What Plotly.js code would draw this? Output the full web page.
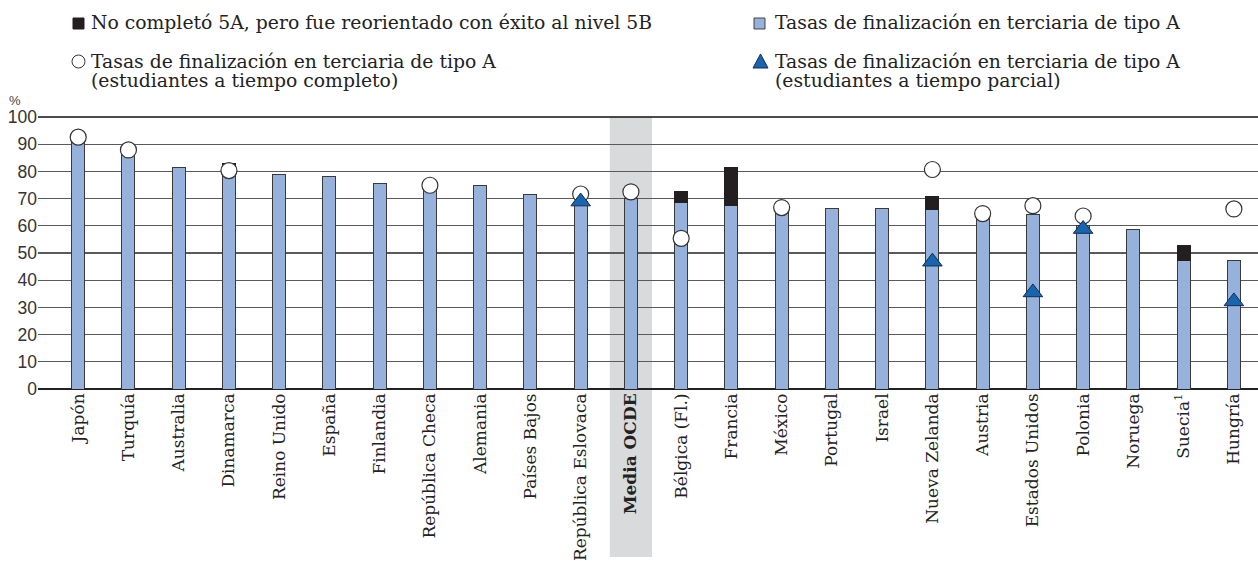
<!DOCTYPE html>
<html>
<head>
<meta charset="utf-8">
<script src="https://cdn.plot.ly/plotly-3.0.1.min.js"></script>
<style>html,body{margin:0;padding:0;background:#fff;}#chart{width:1258px;height:561px;}</style>
</head>
<body>
<div id="chart"></div>
<script>
const categories = ["Japón","Turquía","Australia","Dinamarca","Reino Unido","España","Finlandia","República Checa","Alemania","Países Bajos","República Eslovaca","<b>Media OCDE</b>","Bélgica (Fl.)","Francia","México","Portugal","Israel","Nueva Zelanda","Austria","Estados Unidos","Polonia","Noruega","Suecia<sup>1</sup>","Hungría"];
const tasaA = [91, 87, 81.5, 81, 78.7, 78.1, 75.6, 74, 74.8, 71.6, 69, 70, 68.6, 67.3, 65.5, 66.4, 66.4, 66, 64, 64, 60, 58.8, 47.2, 47.3];
const reorientado = [null, null, null, 2, null, null, null, null, null, null, null, null, 3.9, 14.1, null, null, null, 4.7, null, null, null, null, 5.6, null];
const tiempoCompleto = [92.6, 87.9, null, 80.3, null, null, null, 74.9, null, null, 71.7, 72.5, 55.4, null, 66.7, null, null, 80.7, 64.5, 67.4, 63.6, null, null, 66.2];
const tiempoParcial = [null, null, null, null, null, null, null, null, null, null, 68.9, null, null, null, null, null, null, 46.8, null, 35.5, 58.8, null, null, 32.2];

const legendLines = [
  ["No completó 5A, pero fue reorientado con éxito al nivel 5B"],
  ["Tasas de finalización en terciaria de tipo A", "(estudiantes a tiempo completo)"],
  ["Tasas de finalización en terciaria de tipo A"],
  ["Tasas de finalización en terciaria de tipo A", "(estudiantes a tiempo parcial)"]
];

const W = 1258, H = 561, L = 38, R = 0, T = 117, B = 172;
const pw = W - L - R, ph = H - T - B;
const px = x => (x - L) / pw;
const py = y => (H - B - y) / ph;

const serif = "DejaVu Serif, serif";
const xs = categories.map((c, i) => i);

const traces = [
  {type:'bar', x: xs, y: tasaA, width: 0.26, marker:{color:'#95b1dc', line:{color:'#3a3a3a', width:1}}, hoverinfo:'skip'},
  {type:'bar', x: xs, y: reorientado, width: 0.26, marker:{color:'#231f20', line:{color:'#231f20', width:1}}, hoverinfo:'skip'},
  {type:'scatter', mode:'markers', x: xs, y: tiempoCompleto, marker:{symbol:'circle', size:16, color:'#ffffff', line:{color:'#333', width:1.2}}, hoverinfo:'skip', cliponaxis:false},
  {type:'scatter', mode:'markers', x: xs, y: tiempoParcial, marker:{symbol:'triangle-up', size:17, color:'#1565b0', line:{color:'#1a2a4a', width:1}}, hoverinfo:'skip', cliponaxis:false}
];

const shapes = [
  {type:'rect', xref:'x', yref:'paper', x0:11 - 0.42, x1:11 + 0.42, y0:py(557), y1:1, fillcolor:'#d9dadb', line:{width:0}, layer:'below'},
  {type:'line', xref:'paper', yref:'paper', x0:0, x1:1, y0:1, y1:1, line:{color:'#111', width:1.5}},
  {type:'rect', xref:'paper', yref:'paper', x0:px(73), x1:px(84), y0:py(29), y1:py(18), fillcolor:'#231f20', line:{color:'#231f20', width:1}},
  {type:'circle', xref:'paper', yref:'paper', x0:px(72), x1:px(85), y0:py(68), y1:py(55), fillcolor:'#fff', line:{color:'#333', width:1}},
  {type:'rect', xref:'paper', yref:'paper', x0:px(754), x1:px(765), y0:py(29), y1:py(18), fillcolor:'#95b1dc', line:{color:'#444', width:1}},
  {type:'path', xref:'paper', yref:'paper', path:`M ${px(753)} ${py(68)} L ${px(768)} ${py(68)} L ${px(760.5)} ${py(54)} Z`, fillcolor:'#1565b0', line:{color:'#1a2a4a', width:1}}
];

const annFont = {family: serif, size: 18.8, color:'#222'};
const annotations = [];
const legendPos = [[89, 23], [89, 61], [773, 23], [773, 61]];
legendLines.forEach((lines, k) => {
  lines.forEach((t, j) => {
    annotations.push({xref:'paper', yref:'paper', x:px(legendPos[k][0]), y:py(legendPos[k][1] + j * 19.5), xanchor:'left', yanchor:'middle', text:t, showarrow:false, font:annFont, align:'left'});
  });
});
annotations.push({xref:'paper', yref:'paper', x:px(15), y:py(100), xanchor:'center', yanchor:'middle', text:'%', showarrow:false, font:{family:'Liberation Sans, sans-serif', size:13, color:'#444'}});

const layout = {
  width: W, height: H,
  margin: {l: L, r: R, t: T, b: B, pad: 0},
  paper_bgcolor:'#fff', plot_bgcolor:'rgba(0,0,0,0)',
  barmode:'stack', showlegend:false,
  xaxis: {type:'linear', range:[-0.8, 23.48], tickmode:'array', tickvals: xs, ticktext: categories, tickangle:-90, showgrid:false, zeroline:false, showline:false, ticks:'', tickfont:{family: serif, size:17, color:'#222'}, fixedrange:true},
  yaxis: {range:[0, 100], dtick:10, showgrid:true, gridcolor:'#5a5a5a', gridwidth:1.2, zeroline:true, zerolinecolor:'#222', zerolinewidth:1.5, ticks:'', showline:false, tickfont:{family:'Liberation Sans, sans-serif', size:17.5, color:'#333'}, fixedrange:true},
  shapes: shapes,
  annotations: annotations
};

Plotly.newPlot('chart', traces, layout, {displayModeBar:false, staticPlot:true});
</script>
</body>
</html>
